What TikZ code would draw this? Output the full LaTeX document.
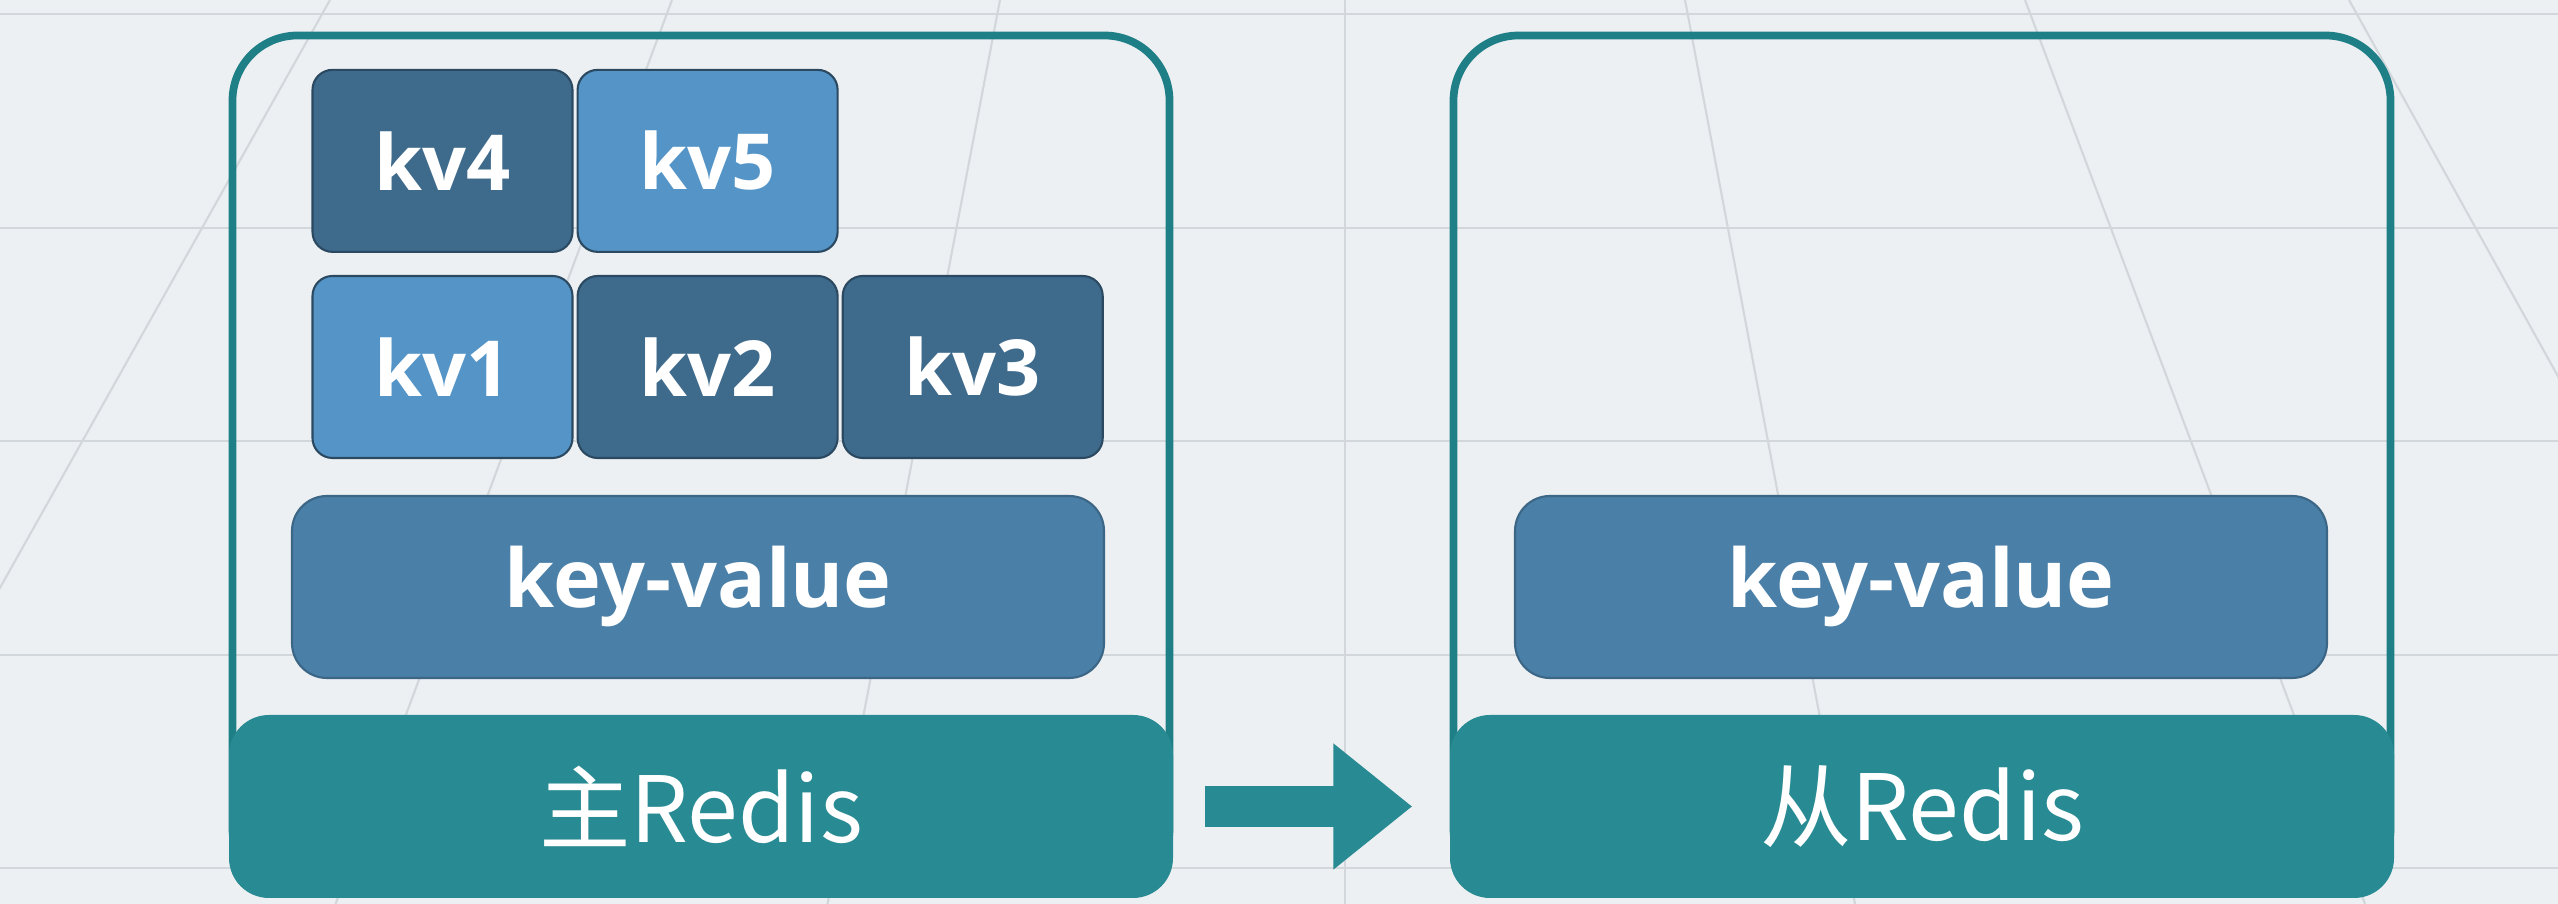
\documentclass[tikz,border=0pt]{standalone}
\usepackage{fontspec}
\setmainfont{Open Sans}
\newfontfamily\cjkfont{Noto Sans CJK SC}
\usepackage{xcolor}
\definecolor{bgwhite}{HTML}{EDF0F2}
\definecolor{gridgray}{HTML}{D2D7DB}
\definecolor{redisteal}{HTML}{288A92}
\definecolor{borderteal}{HTML}{1F7F87}
\definecolor{kvdarkblue}{HTML}{3E6A8C}
\definecolor{kvlightblue}{HTML}{5494C7}
\definecolor{storeblue}{HTML}{4A7FA7}
\usetikzlibrary{arrows.meta,positioning}
\tikzset{
  >={Triangle[length=0.79cm,width=1.21cm]},
  server/.style={rectangle,draw=borderteal,line width=2.2pt,rounded corners=0.65cm,minimum width=9.37cm,minimum height=8.58cm},
  redisbar/.style={rectangle,fill=redisteal,rounded corners=0.4cm,minimum width=9.44cm,minimum height=1.83cm,text=white,font=\cjkfont\fontsize{26}{30}\selectfont},
  kvbox/.style={rectangle,draw=kvdarkblue!70!black,line width=0.6pt,rounded corners=0.2cm,minimum width=2.6cm,minimum height=1.82cm,text=white,font=\bfseries\fontsize{22}{26}\selectfont},
  kvdark/.style={kvbox,fill=kvdarkblue},
  kvlight/.style={kvbox,fill=kvlightblue},
  store/.style={rectangle,fill=storeblue,draw=storeblue!80!black,line width=0.6pt,rounded corners=0.35cm,minimum width=8.12cm,minimum height=1.82cm,text=white,font=\bfseries\fontsize{23}{28}\selectfont},
  replicate/.style={->,line width=0.41cm,draw=redisteal,shorten <=0.31cm,shorten >=0.37cm},
  gridline/.style={draw=gridgray,line width=0.6pt}
}

\begin{document}
\begin{tikzpicture}
  \fill[bgwhite] (0,0) rectangle (25.58,9.04);
  \begin{scope}
    \clip (0,0) rectangle (25.58,9.04);
    \foreach \y in {0.36,2.49,4.63,6.76,8.90}
      \draw[gridline] (0,\y) -- (25.58,\y);
    \foreach \x in {3.30,6.72,10.0,13.45,16.85,20.25,23.49}
      \draw[gridline] (\x,9.04) -- ({13.45+(\x-13.45)*1.5},0);
  \end{scope}

  \node[server] (mbox) at (7.01,4.395) {};
  \node[server] (sbox) at (19.22,4.395) {};

  \node[kvlight] (kv1) at (4.425,5.37) {kv1};
  \node[kvdark,right=0.03cm of kv1] (kv2) {kv2};
  \node[kvdark,right=0.03cm of kv2] (kv3) {kv3};
  \node[kvdark,above=0.22cm of kv1] (kv4) {kv4};
  \node[kvlight,right=0.03cm of kv4] (kv5) {kv5};

  \node[store] (mstore) at (6.98,3.17) {key-value};
  \node[store] (sstore) at (19.21,3.17) {key-value};

  \node[redisbar] (master) at (7.01,0.975) {主Redis};
  \node[redisbar] (slave) at (19.22,0.975) {从Redis};

  \draw[replicate] (master.east) -- (slave.west);
\end{tikzpicture}
\end{document}
